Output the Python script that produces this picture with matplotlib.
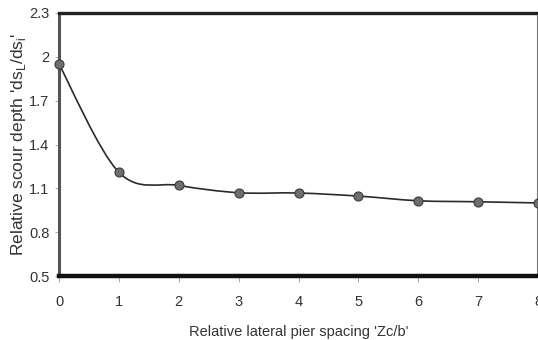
import numpy as np
import matplotlib.pyplot as plt
from matplotlib.path import Path
from matplotlib.patches import PathPatch

plt.rcParams['font.family'] = ['Liberation Sans', 'DejaVu Sans']

# data
spacing = [0, 1, 2, 3, 4, 5, 6, 7, 8]
rel_depth = [1.95, 1.21, 1.12, 1.07, 1.068, 1.047, 1.015, 1.008, 1.0]
xticks = [0, 1, 2, 3, 4, 5, 6, 7, 8]
yticks = [0.5, 0.8, 1.1, 1.4, 1.7, 2.0, 2.3]
yticklabels = ["0.5", "0.8", "1.1", "1.4", "1.7", "2", "2.3"]


def smooth_path(x, y):
    # excel-like smoothed line: cubic bezier through each pair of points
    p = np.column_stack([x, y]).astype(float)
    n = len(p)
    verts = [p[0]]
    codes = [Path.MOVETO]
    for i in range(n - 1):
        p0 = p[i - 1] if i > 0 else p[i]
        p3 = p[i + 2] if i + 2 < n else p[i + 1]
        c1 = p[i] + (p[i + 1] - p0) / 6
        c2 = p[i + 1] - (p3 - p[i]) / 6
        verts += [c1, c2, p[i + 1]]
        codes += [Path.CURVE4] * 3
    return Path(verts, codes)


fig = plt.figure(figsize=(5.38, 3.4), dpi=100)
ax = fig.add_axes([59 / 538, 64 / 340, 479 / 538, 263 / 340])

ax.add_patch(PathPatch(smooth_path(spacing, rel_depth), facecolor="none",
                       edgecolor="#2a2a2a", lw=1.2, zorder=3))
ax.plot(spacing, rel_depth, ls="none", marker="o", ms=6.5,
        mfc="#6e6e6e", mec="#3a3a3a", mew=0.8, zorder=4, clip_on=False)

ax.set_xlim(0, 8)
ax.set_ylim(0.5, 2.3)
ax.set_xticks(xticks)
ax.set_yticks(yticks)
ax.set_yticklabels(yticklabels)

ax.spines["left"].set_color("#555555")
ax.spines["left"].set_linewidth(2.2)
ax.spines["bottom"].set_color("#111111")
ax.spines["bottom"].set_linewidth(3.2)
ax.spines["top"].set_color("#222222")
ax.spines["top"].set_linewidth(2.4)
ax.spines["right"].set_color("#777777")
ax.spines["right"].set_linewidth(1.5)

ax.tick_params(axis="x", direction="out", length=4, width=0.6, color="#999999",
               pad=10, labelsize=10.5, labelcolor="#333333")
ax.tick_params(axis="y", direction="out", length=3, width=0.6, color="#999999",
               pad=4, labelsize=10.5, labelcolor="#333333")

ax.set_xlabel("Relative lateral pier spacing 'Zc/b'", fontsize=10.5,
              color="#333333", labelpad=11)
ax.set_ylabel("Relative scour depth 'ds$_\\mathregular{L}$/ds$_\\mathregular{i}$'",
              fontsize=12.5, color="#333333", labelpad=1)

plt.savefig("out.png", dpi=100)
